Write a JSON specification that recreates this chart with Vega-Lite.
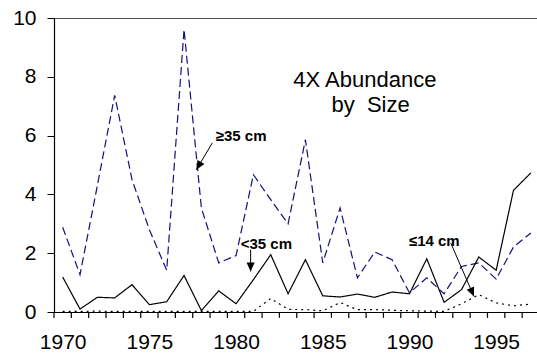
{
  "$schema": "https://vega.github.io/schema/vega-lite/v6.json",
  "width": 485.5,
  "height": 294,
  "autosize": "none",
  "padding": {"left": 54, "top": 18, "right": 0, "bottom": 48},
  "background": "white",
  "config": {
    "font": "Liberation Sans",
    "view": {"stroke": "#505050", "strokeWidth": 1},
    "axis": {"domainColor": "black", "tickColor": "black", "labelColor": "black", "grid": false, "title": null, "labelFont": "Liberation Sans", "ticks": true}
  },
  "resolve": {"axis": {"x": "independent", "y": "independent"}},
  "datasets": {
    "series": [
      {"year": 1970, "size": "ge35", "v": 2.88}, {"year": 1971, "size": "ge35", "v": 1.27}, {"year": 1972, "size": "ge35", "v": 4.3}, {"year": 1973, "size": "ge35", "v": 7.37},
      {"year": 1974, "size": "ge35", "v": 4.5}, {"year": 1975, "size": "ge35", "v": 2.8}, {"year": 1976, "size": "ge35", "v": 1.42}, {"year": 1977, "size": "ge35", "v": 9.61},
      {"year": 1978, "size": "ge35", "v": 3.54}, {"year": 1979, "size": "ge35", "v": 1.67}, {"year": 1980, "size": "ge35", "v": 1.92}, {"year": 1981, "size": "ge35", "v": 4.67},
      {"year": 1982, "size": "ge35", "v": 3.82}, {"year": 1983, "size": "ge35", "v": 3.0}, {"year": 1984, "size": "ge35", "v": 5.86}, {"year": 1985, "size": "ge35", "v": 1.67},
      {"year": 1986, "size": "ge35", "v": 3.54}, {"year": 1987, "size": "ge35", "v": 1.16}, {"year": 1988, "size": "ge35", "v": 2.04}, {"year": 1989, "size": "ge35", "v": 1.78},
      {"year": 1990, "size": "ge35", "v": 0.65}, {"year": 1991, "size": "ge35", "v": 1.16}, {"year": 1992, "size": "ge35", "v": 0.62}, {"year": 1993, "size": "ge35", "v": 1.55},
      {"year": 1994, "size": "ge35", "v": 1.67}, {"year": 1995, "size": "ge35", "v": 1.12}, {"year": 1996, "size": "ge35", "v": 2.21}, {"year": 1997, "size": "ge35", "v": 2.69},
      {"year": 1970, "size": "lt35", "v": 1.19}, {"year": 1971, "size": "lt35", "v": 0.1}, {"year": 1972, "size": "lt35", "v": 0.5}, {"year": 1973, "size": "lt35", "v": 0.48},
      {"year": 1974, "size": "lt35", "v": 0.93}, {"year": 1975, "size": "lt35", "v": 0.25}, {"year": 1976, "size": "lt35", "v": 0.35}, {"year": 1977, "size": "lt35", "v": 1.24},
      {"year": 1978, "size": "lt35", "v": 0.05}, {"year": 1979, "size": "lt35", "v": 0.72}, {"year": 1980, "size": "lt35", "v": 0.28}, {"year": 1981, "size": "lt35", "v": 1.1},
      {"year": 1982, "size": "lt35", "v": 1.95}, {"year": 1983, "size": "lt35", "v": 0.62}, {"year": 1984, "size": "lt35", "v": 1.78}, {"year": 1985, "size": "lt35", "v": 0.55},
      {"year": 1986, "size": "lt35", "v": 0.51}, {"year": 1987, "size": "lt35", "v": 0.61}, {"year": 1988, "size": "lt35", "v": 0.5}, {"year": 1989, "size": "lt35", "v": 0.68},
      {"year": 1990, "size": "lt35", "v": 0.62}, {"year": 1991, "size": "lt35", "v": 1.81}, {"year": 1992, "size": "lt35", "v": 0.33}, {"year": 1993, "size": "lt35", "v": 0.76},
      {"year": 1994, "size": "lt35", "v": 1.87}, {"year": 1995, "size": "lt35", "v": 1.42}, {"year": 1996, "size": "lt35", "v": 4.14}, {"year": 1997, "size": "lt35", "v": 4.73},
      {"year": 1970, "size": "le14", "v": 0.02}, {"year": 1971, "size": "le14", "v": 0.02}, {"year": 1972, "size": "le14", "v": 0.03}, {"year": 1973, "size": "le14", "v": 0.02},
      {"year": 1974, "size": "le14", "v": 0.02}, {"year": 1975, "size": "le14", "v": 0.02}, {"year": 1976, "size": "le14", "v": 0.02}, {"year": 1977, "size": "le14", "v": 0.02},
      {"year": 1978, "size": "le14", "v": 0.02}, {"year": 1979, "size": "le14", "v": 0.02}, {"year": 1980, "size": "le14", "v": 0.02}, {"year": 1981, "size": "le14", "v": 0.02},
      {"year": 1982, "size": "le14", "v": 0.46}, {"year": 1983, "size": "le14", "v": 0.09}, {"year": 1984, "size": "le14", "v": 0.08}, {"year": 1985, "size": "le14", "v": 0.04},
      {"year": 1986, "size": "le14", "v": 0.32}, {"year": 1987, "size": "le14", "v": 0.08}, {"year": 1988, "size": "le14", "v": 0.08}, {"year": 1989, "size": "le14", "v": 0.06},
      {"year": 1990, "size": "le14", "v": 0.04}, {"year": 1991, "size": "le14", "v": 0.03}, {"year": 1992, "size": "le14", "v": 0.02}, {"year": 1993, "size": "le14", "v": 0.28},
      {"year": 1994, "size": "le14", "v": 0.59}, {"year": 1995, "size": "le14", "v": 0.31}, {"year": 1996, "size": "le14", "v": 0.21}, {"year": 1997, "size": "le14", "v": 0.27}
    ],
    "bounds": [
      {"b": 1969.5}, {"b": 1970.5}, {"b": 1971.5}, {"b": 1972.5}, {"b": 1973.5}, {"b": 1974.5}, {"b": 1975.5}, {"b": 1976.5}, {"b": 1977.5}, {"b": 1978.5},
      {"b": 1979.5}, {"b": 1980.5}, {"b": 1981.5}, {"b": 1982.5}, {"b": 1983.5}, {"b": 1984.5}, {"b": 1985.5}, {"b": 1986.5}, {"b": 1987.5}, {"b": 1988.5},
      {"b": 1989.5}, {"b": 1990.5}, {"b": 1991.5}, {"b": 1992.5}, {"b": 1993.5}, {"b": 1994.5}, {"b": 1995.5}, {"b": 1996.5}, {"b": 1997.5}
    ],
    "arrows": [
      {"id": "a", "x": 1978.63, "y": 5.75, "x2": 1977.71, "y2": 4.84},
      {"id": "b", "x": 1980.84, "y": 2.12, "x2": 1980.84, "y2": 1.38},
      {"id": "c", "x": 1992.38, "y": 2.35, "x2": 1993.72, "y2": 0.53}
    ],
    "labels": [
      {"kind": "bold", "x": 1978.83, "y": 6.0, "text": "≥35 cm"},
      {"kind": "bold", "x": 1980.27, "y": 2.31, "text": "<35 cm"},
      {"kind": "bold", "x": 1989.97, "y": 2.4, "text": "≤14 cm"},
      {"kind": "title", "x": 1983.3, "y": 7.9, "text": "4X Abundance"},
      {"kind": "title", "x": 1985.5, "y": 7.05, "text": "by\u00a0\u00a0Size"}
    ]
  },
  "layer": [
    {
      "data": {"name": "series"},
      "mark": {"type": "line", "strokeWidth": 1.2},
      "encoding": {
        "x": {
          "field": "year", "type": "quantitative",
          "scale": {"domain": [1969.5, 1997.5], "nice": false, "zero": false},
          "axis": {
            "values": [1969.5, 1974.5, 1979.5, 1984.5, 1989.5, 1994.5],
            "labelExpr": "'' + (datum.value + 0.5)",
            "labelOffset": 8.67, "labelOverlap": false, "labelFlush": false, "labelBound": false,
            "labelFontSize": 21, "labelPadding": 19, "ticks": false, "tickSize": 6, "domainWidth": 1
          }
        },
        "y": {
          "field": "v", "type": "quantitative",
          "scale": {"domain": [0, 10], "nice": false},
          "axis": {"values": [0, 2, 4, 6, 8, 10], "labelFontSize": 21, "labelPadding": 11, "tickSize": 7, "domainWidth": 1.2}
        },
        "color": {"field": "size", "type": "nominal", "scale": {"domain": ["ge35", "lt35", "le14"], "range": ["#10107e", "#000000", "#000000"]}, "legend": null},
        "strokeDash": {"field": "size", "type": "nominal", "scale": {"domain": ["ge35", "lt35", "le14"], "range": [[8, 4], [1, 0], [2, 4]]}, "legend": null}
      }
    },
    {
      "data": {"name": "bounds"},
      "mark": {"type": "rule", "color": "black", "strokeWidth": 1.2, "clip": false},
      "encoding": {
        "x": {"field": "b", "type": "quantitative", "axis": null},
        "y": {"datum": 0, "type": "quantitative", "axis": null},
        "y2": {"datum": -0.2}
      }
    },
    {
      "data": {"name": "arrows"},
      "mark": {"type": "rule", "color": "black", "strokeWidth": 1},
      "encoding": {
        "x": {"field": "x", "type": "quantitative", "axis": null},
        "y": {"field": "y", "type": "quantitative", "axis": null},
        "x2": {"field": "x2"},
        "y2": {"field": "y2"}
      }
    },
    {
      "data": {"name": "arrows"},
      "transform": [{"filter": "datum.id == 'a'"}],
      "mark": {"type": "point", "shape": "M0,0L-0.45,-1L0.45,-1Z", "filled": true, "color": "black", "opacity": 1, "size": 324, "angle": 31},
      "encoding": {"x": {"field": "x2", "type": "quantitative", "axis": null}, "y": {"field": "y2", "type": "quantitative", "axis": null}}
    },
    {
      "data": {"name": "arrows"},
      "transform": [{"filter": "datum.id == 'b'"}],
      "mark": {"type": "point", "shape": "M0,0L-0.45,-1L0.45,-1Z", "filled": true, "color": "black", "opacity": 1, "size": 324, "angle": 0},
      "encoding": {"x": {"field": "x2", "type": "quantitative", "axis": null}, "y": {"field": "y2", "type": "quantitative", "axis": null}}
    },
    {
      "data": {"name": "arrows"},
      "transform": [{"filter": "datum.id == 'c'"}],
      "mark": {"type": "point", "shape": "M0,0L-0.45,-1L0.45,-1Z", "filled": true, "color": "black", "opacity": 1, "size": 324, "angle": -23.6},
      "encoding": {"x": {"field": "x2", "type": "quantitative", "axis": null}, "y": {"field": "y2", "type": "quantitative", "axis": null}}
    },
    {
      "data": {"name": "labels"},
      "transform": [{"filter": "datum.kind == 'bold'"}],
      "mark": {"type": "text", "align": "left", "baseline": "middle", "fontSize": 15, "fontWeight": "bold", "color": "black"},
      "encoding": {"x": {"field": "x", "type": "quantitative", "axis": null}, "y": {"field": "y", "type": "quantitative", "axis": null}, "text": {"field": "text"}}
    },
    {
      "data": {"name": "labels"},
      "transform": [{"filter": "datum.kind == 'title'"}],
      "mark": {"type": "text", "align": "left", "baseline": "middle", "fontSize": 22, "color": "black"},
      "encoding": {"x": {"field": "x", "type": "quantitative", "axis": null}, "y": {"field": "y", "type": "quantitative", "axis": null}, "text": {"field": "text"}}
    }
  ]
}
